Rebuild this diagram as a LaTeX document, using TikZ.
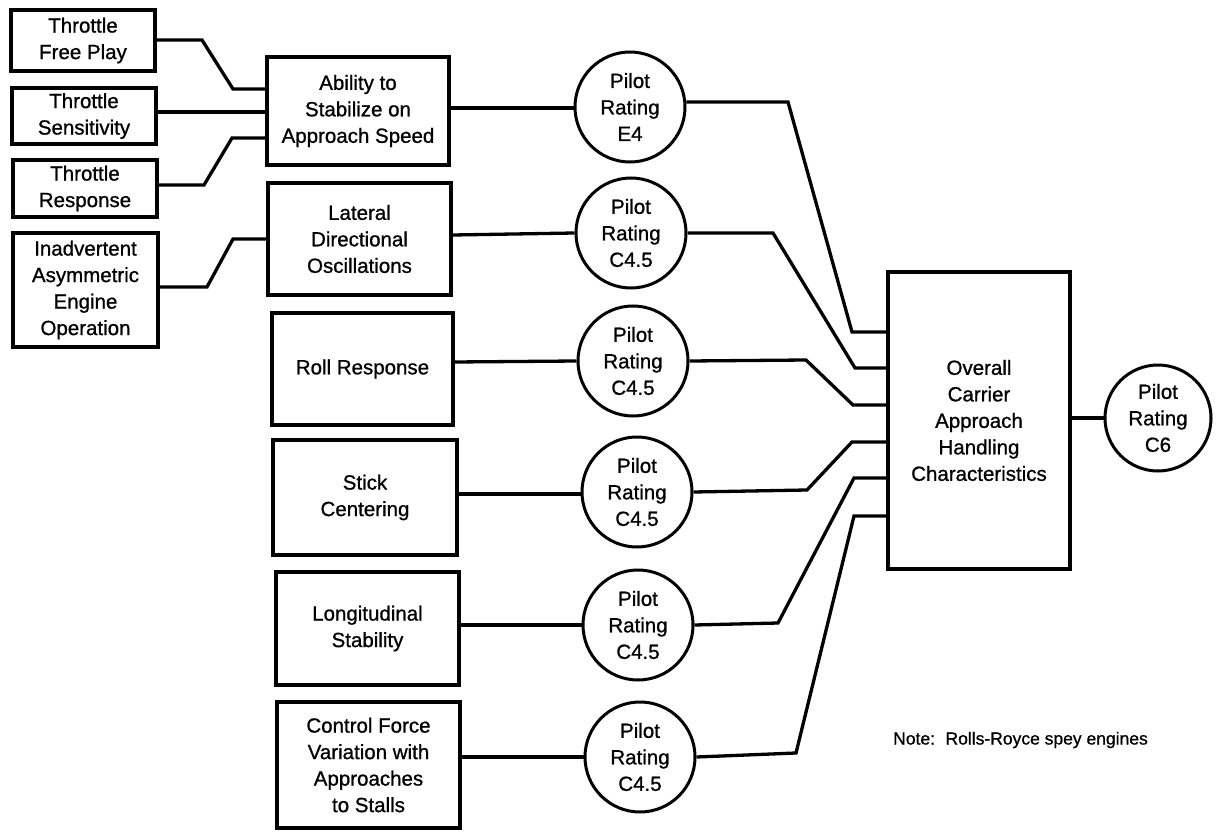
\documentclass[tikz,border=0pt]{standalone}
\usepackage{fontspec}
\setmainfont{Liberation Sans}[FakeBold=0.9]
\begin{document}
\begin{tikzpicture}[x=1pt,y=-1pt,
  every node/.style={font=\fontsize{20.5}{26.5}\selectfont, align=center, inner sep=0pt},
  box/.style={draw, line width=3.3pt, rectangle},
  rating/.style={draw, line width=3pt, circle, minimum size=110pt},
  conn/.style={line width=3.3pt, line join=miter}]
\useasboundingbox (0,0) rectangle (1216,832);
% left boxes
\node[box, minimum width=144pt, minimum height=61pt] (fp) at (83,40.5) {Throttle\\Free Play};
\node[box, minimum width=144pt, minimum height=56pt] (sens) at (84,116) {Throttle\\Sensitivity};
\node[box, minimum width=144pt, minimum height=57pt] (resp) at (85,188.5) {Throttle\\Response};
\node[box, minimum width=145pt, minimum height=114pt] (inad) at (85.5,290) {Inadvertent\\Asymmetric\\Engine\\Operation};
% middle boxes
\node[box, minimum width=182pt, minimum height=108pt] (abil) at (358,111) {Ability to\\Stabilize on\\Approach Speed};
\node[box, minimum width=183pt, minimum height=112pt] (lat) at (359.5,239) {Lateral\\Directional\\Oscillations};
\node[box, minimum width=181pt, minimum height=112pt] (roll) at (362.5,369) {Roll Response};
\node[box, minimum width=184pt, minimum height=115pt] (stick) at (365,497.5) {Stick\\Centering};
\node[box, minimum width=183pt, minimum height=113pt] (longi) at (367.5,628.5) {Longitudinal\\Stability};
\node[box, minimum width=183pt, minimum height=126pt] (ctrl) at (368.5,765) {Control Force\\Variation with\\Approaches\\to Stalls};
% circles
\node[rating] (c1) at (630,107) {Pilot\\Rating\\E4};
\node[rating] (c2) at (631,233) {Pilot\\Rating\\C4.5};
\node[rating] (c3) at (633,361) {Pilot\\Rating\\C4.5};
\node[rating] (c4) at (637,492) {Pilot\\Rating\\C4.5};
\node[rating] (c5) at (638,625) {Pilot\\Rating\\C4.5};
\node[rating] (c6) at (640,757) {Pilot\\Rating\\C4.5};
% overall
\node[box, minimum width=182pt, minimum height=297pt] (big) at (979,420.5) {Overall\\Carrier\\Approach\\Handling\\Characteristics};
\node[rating, minimum size=106pt] (c7) at (1158,418) {Pilot\\Rating\\C6};
% note
\node[anchor=west, font=\fontsize{17.5}{20}\selectfont] (note) at (893,740) {Note:\hspace{0.6em}Rolls-Royce spey engines};
% left connectors
\draw[conn] (fp.east |- 0,40) -- (202,40) -- (233,89) -- (abil.west |- 0,89);
\draw[conn] (sens.east |- 0,112) -- (abil.west |- 0,112);
\draw[conn] (resp.east |- 0,185) -- (204,185) -- (232,138) -- (abil.west |- 0,138);
\draw[conn] (inad.east |- 0,287) -- (207,287) -- (233,239) -- (lat.west |- 0,239);
% middle to circles
\draw[conn] (abil.east |- 0,108) -- (c1.west |- 0,108);
\draw[conn] (lat.east |- 0,235) -- (c2.west);
\draw[conn] (roll.east |- 0,362) -- (c3.west);
\draw[conn] (stick.east |- 0,494) -- (c4.west |- 0,494);
\draw[conn] (longi.east |- 0,625) -- (c5.west);
\draw[conn] (ctrl.east |- 0,757) -- (c6.west);
% circles to overall
\draw[conn] (c1.5) -- (788,102) -- (852,332) -- (big.west |- 0,332);
\draw[conn] (c2.east) -- (773,233) -- (855,368) -- (big.west |- 0,368);
\draw[conn] (c3.east) -- (806,360) -- (853,405) -- (big.west |- 0,405);
\draw[conn] (c4.east) -- (807,490) -- (852,442) -- (big.west |- 0,442);
\draw[conn] (c5.east) -- (778,623) -- (854,478) -- (big.west |- 0,478);
\draw[conn] (c6.east) -- (796,753) -- (854,516) -- (big.west |- 0,516);
\draw[conn] (big.east |- c7) -- (c7.west);
\end{tikzpicture}
\end{document}
